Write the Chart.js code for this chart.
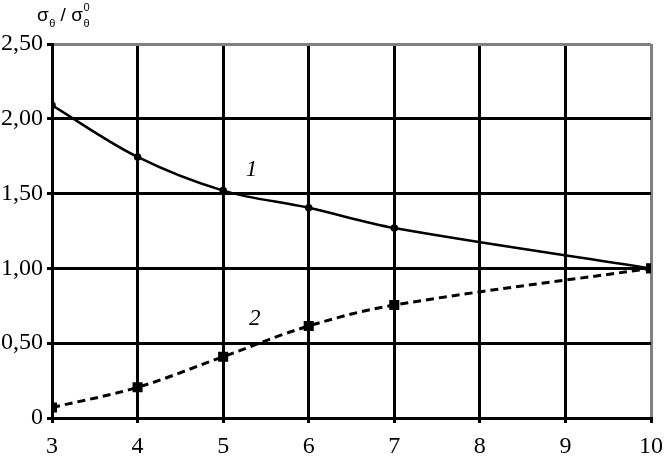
<!DOCTYPE html>
<html lang="en">
<head>
    <meta charset="UTF-8">
    <title>sigma ratio</title>
    <script src="https://cdn.jsdelivr.net/npm/chart.js@4.4.1/dist/chart.umd.min.js"></script>
    <style>
        html, body { margin: 0; padding: 0; background: #fff; }
        canvas { display: block; }
    </style>
</head>
<body>
    <canvas id="myChart" width="664" height="457" style="width:664px;height:457px"></canvas>
    <script>
        // values
        const xValues = [3, 4, 5, 6, 7, 10];
        const curve1 = [2.09, 1.745, 1.52, 1.405, 1.27, 1.00];
        const curve2 = [0.07, 0.205, 0.41, 0.615, 0.755, 1.00];
        const yTickLabels = {0: "0", 0.5: "0,50", 1: "1,00", 1.5: "1,50", 2: "2,00", 2.5: "2,50"};

        const toPoints = (ys) => xValues.map((x, i) => ({x: x, y: ys[i]}));

        // axis title and curve numbers
        const textPlugin = {
            id: "texts",
            afterDraw(chart) {
                const c = chart.ctx;
                const sx = chart.scales.x, sy = chart.scales.y;
                c.save();
                c.fillStyle = "#000";
                c.textBaseline = "alphabetic";
                c.textAlign = "left";
                // σθ / σθ0
                let x = 37;
                c.font = "19px 'Liberation Sans'";
                c.fillText("σ", x, 21); x += c.measureText("σ").width + 0.5;
                c.font = "11px 'Liberation Sans'";
                c.fillText("θ", x, 27); x += c.measureText("θ").width;
                c.font = "19px 'Liberation Sans'";
                c.fillText(" / σ", x, 21); x += c.measureText(" / σ").width + 0.5;
                c.font = "11px 'Liberation Sans'";
                c.fillText("θ", x, 27);
                c.fillText("0", x, 11);
                // curve labels
                c.font = "italic 23px 'Liberation Serif'";
                c.textAlign = "center";
                c.fillText("1", sx.getPixelForValue(5.33), sy.getPixelForValue(1.62));
                c.fillText("2", sx.getPixelForValue(5.37), sy.getPixelForValue(0.62));
                c.restore();
            }
        };

        new Chart(document.getElementById("myChart"), {
            type: "line",
            data: {
                datasets: [
                    {
                        label: "1",
                        data: toPoints(curve1),
                        borderColor: "#000",
                        backgroundColor: "#000",
                        borderWidth: 2.5,
                        pointRadius: 2.5,
                        pointStyle: "circle",
                        tension: 0.35
                    },
                    {
                        label: "2",
                        data: toPoints(curve2),
                        borderColor: "#000",
                        backgroundColor: "#000",
                        borderWidth: 3,
                        borderDash: [8, 5],
                        pointRadius: 5,
                        pointStyle: "rect",
                        tension: 0.35
                    }
                ]
            },
            options: {
                responsive: false,
                animation: false,
                layout: {padding: {top: 44, right: 13, left: 0, bottom: 0}},
                plugins: {legend: {display: false}, tooltip: {enabled: false}},
                scales: {
                    x: {
                        type: "linear",
                        min: 3, max: 10,
                        afterFit: (s) => { s.height = 39; s.paddingLeft = 0; s.paddingRight = 0; },
                        border: {color: "#000", width: 3},
                        grid: {
                            color: (ctx) => ctx.tick && ctx.tick.value === 10 ? "#808080" : "#000",
                            tickColor: "#000",
                            lineWidth: 3,
                            tickLength: 5
                        },
                        ticks: {
                            stepSize: 1,
                            color: "#000",
                            padding: 9,
                            maxRotation: 0,
                            font: {family: "'Liberation Serif'", size: 24}
                        }
                    },
                    y: {
                        min: 0, max: 2.5,
                        afterFit: (s) => { s.width = 52; s.paddingTop = 0; s.paddingBottom = 0; },
                        border: {color: "#000", width: 3},
                        grid: {
                            color: (ctx) => ctx.tick && ctx.tick.value === 2.5 ? "#808080" : "#000",
                            tickColor: "#000",
                            lineWidth: 3,
                            tickLength: 5
                        },
                        ticks: {
                            stepSize: 0.5,
                            color: "#000",
                            padding: 4,
                            font: {family: "'Liberation Serif'", size: 24},
                            callback: (v) => yTickLabels[v]
                        }
                    }
                }
            },
            plugins: [textPlugin]
        });
    </script>
</body>
</html>
